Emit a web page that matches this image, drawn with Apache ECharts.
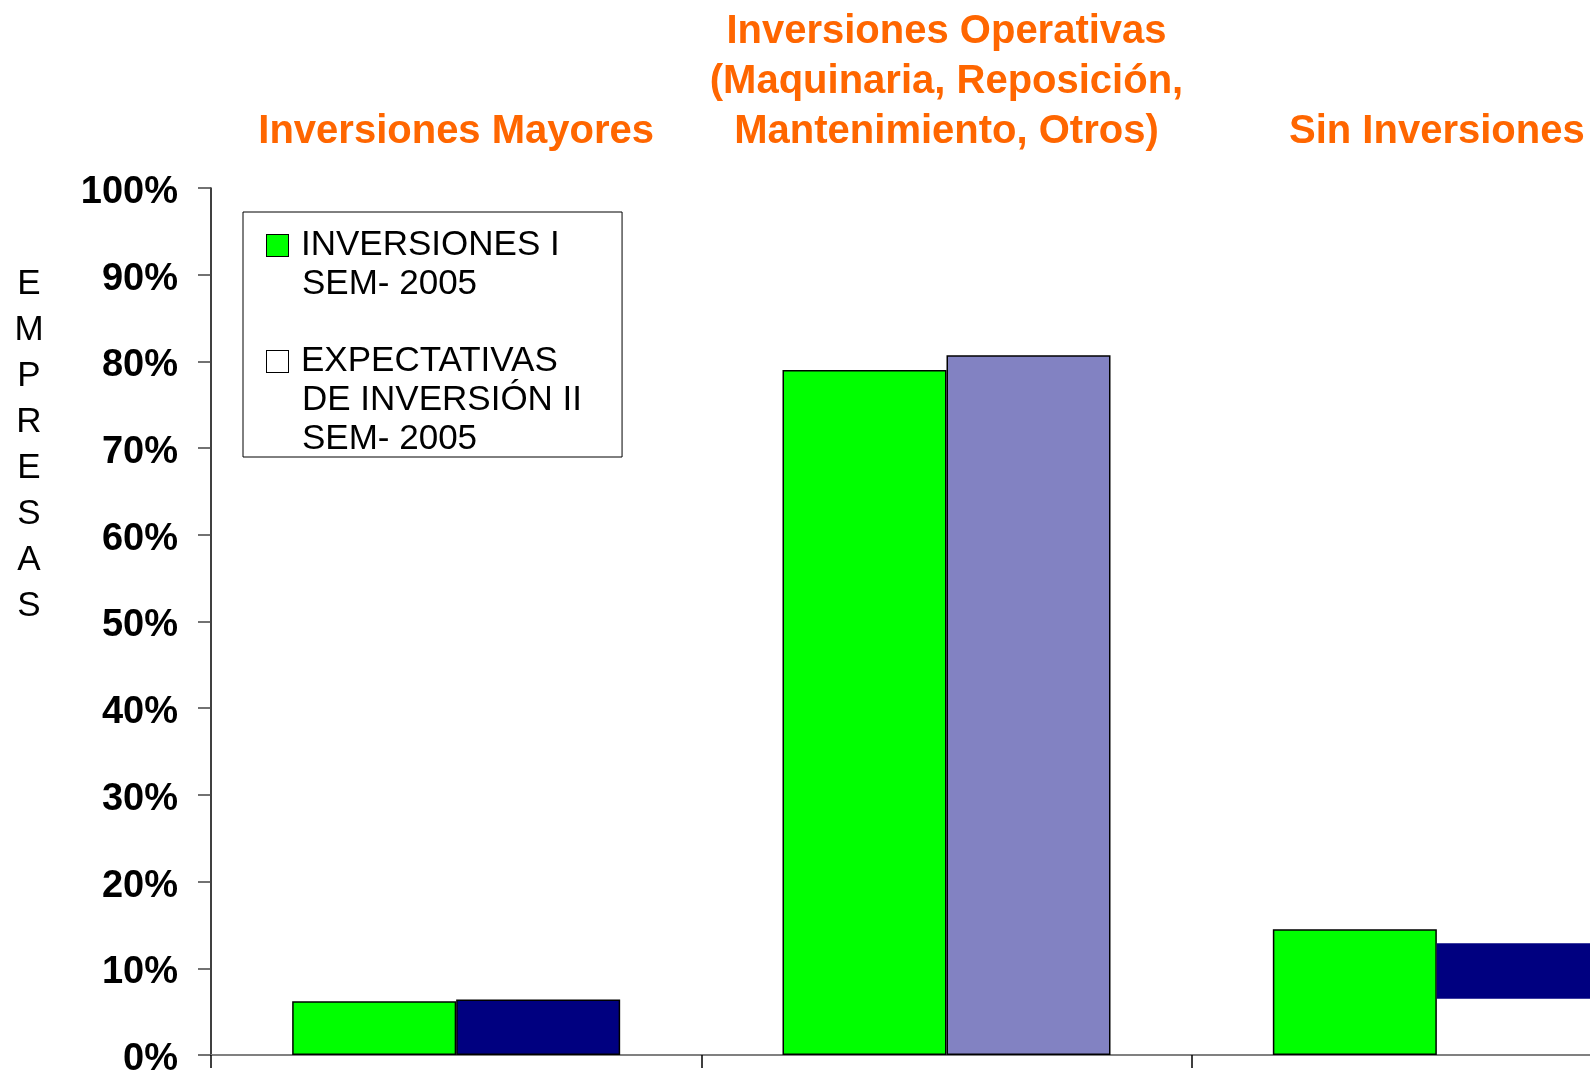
<!DOCTYPE html>
<html>
<head>
<meta charset="utf-8">
<script src="https://cdn.jsdelivr.net/npm/echarts@6/dist/echarts.min.js"></script>
<style>
  html, body { margin: 0; padding: 0; background: #fff; overflow: hidden; width: 1590px; height: 1076px; }
  /* el grafico original sale cortado por la derecha */
  #chart { width: 1683px; height: 1076px; }
</style>
</head>
<body>
<div id="chart"></div>
<script>
// categorias del eje x (titulos en naranja arriba)
var categorias = [
    'Inversiones Mayores',
    'Inversiones Operativas\n(Maquinaria, Reposición,\nMantenimiento, Otros)',
    'Sin Inversiones'
];
var yTicks = [0, 10, 20, 30, 40, 50, 60, 70, 80, 90, 100];

// % de empresas
var inversiones = [6.2, 79.0, 14.5];        // INVERSIONES I SEM-2005
var expectTop = [6.4, 80.7, 12.9];          // EXPECTATIVAS II SEM-2005 (borde superior)
var expectBase = [0, 0, 6.5];               // la ultima barra aparece flotando en el original

var nombreInv = 'INVERSIONES I SEM-2005';
var nombreExp = 'EXPECTATIVAS DE INVERSIÓN II SEM-2005';

var expectColors = ['#000080', '#8282c2', '#000080'];
var expectBorders = [1.5, 1.5, 0];

var fuente = '"Liberation Sans", Arial, sans-serif';

var chart = echarts.init(document.getElementById('chart'));

chart.setOption({
    backgroundColor: '#fff',
    animation: false,
    title: {
        text: 'E\nM\nP\nR\nE\nS\nA\nS',
        left: 29,
        top: 261,
        padding: 0,
        textAlign: 'center',
        textStyle: {
            fontFamily: fuente,
            fontSize: 35,
            fontWeight: 'normal',
            lineHeight: 46,
            color: '#000'
        }
    },
    legend: {
        data: [nombreInv, nombreExp],
        orient: 'vertical',
        left: 243,
        top: 212,
        padding: [16, 40, 0, 19],
        itemGap: 42,
        itemWidth: 0,
        itemHeight: 0,
        icon: 'none',
        selectedMode: false,
        backgroundColor: '#fff',
        borderColor: '#000',
        borderWidth: 1,
        formatter: function (name) {
            if (name === nombreInv) {
                return '{g|}{s|}{t|INVERSIONES I}\n{p|}{t|SEM- 2005}';
            }
            return '{w|}{s|}{t|EXPECTATIVAS}\n{p|}{t|DE INVERSIÓN II}\n{p|}{t|SEM- 2005}';
        },
        textStyle: {
            rich: {
                t: { fontFamily: fuente, fontSize: 35, lineHeight: 39, color: '#000' },
                g: { width: 21, height: 21, backgroundColor: '#00ff00', borderColor: '#000', borderWidth: 1 },
                w: { width: 21, height: 21, backgroundColor: '#fff', borderColor: '#000', borderWidth: 1 },
                s: { width: 13 },
                p: { width: 35 }
            }
        }
    },
    grid: {
        left: 211,
        right: 1,
        top: 188,
        bottom: 21,
        outerBoundsMode: 'none'
    },
    xAxis: [{
        type: 'category',
        data: categorias,
        position: 'bottom',
        axisLine: { lineStyle: { color: '#808080', width: 2 } },
        axisTick: { show: true, length: 13, lineStyle: { color: '#000', width: 1.5 } },
        axisLabel: { show: false },
        splitLine: { show: false }
    }, {
        type: 'category',
        data: categorias,
        position: 'top',
        axisLine: { show: false },
        axisTick: { show: false },
        axisLabel: {
            interval: 0,
            margin: 31,
            fontFamily: fuente,
            fontSize: 40,
            fontWeight: 'bold',
            lineHeight: 50,
            color: '#ff6600'
        }
    }],
    yAxis: {
        type: 'value',
        min: yTicks[0],
        max: yTicks[yTicks.length - 1],
        interval: 10,
        axisLine: { show: true, lineStyle: { color: '#000', width: 1.5 } },
        axisTick: { show: true, length: 13, lineStyle: { color: '#444', width: 1.5 } },
        axisLabel: {
            margin: 33,
            verticalAlign: 'top',
            lineHeight: 9,
            formatter: '{value}%',
            fontFamily: fuente,
            fontSize: 38,
            fontWeight: 'bold',
            color: '#000'
        },
        splitLine: { show: false }
    },
    series: [{
        name: nombreInv,
        type: 'bar',
        barWidth: 164,
        barGap: '0%',
        itemStyle: { color: '#00ff00', borderColor: '#000', borderWidth: 1.5 },
        data: inversiones
    }, {
        name: 'base',
        type: 'bar',
        stack: 'exp',
        barWidth: 164,
        silent: true,
        itemStyle: { color: 'rgba(0,0,0,0)' },
        data: expectBase
    }, {
        name: nombreExp,
        type: 'bar',
        stack: 'exp',
        barWidth: 164,
        itemStyle: { color: '#fff', borderColor: '#000' },
        data: expectTop.map(function (v, i) {
            return {
                value: v - expectBase[i],
                itemStyle: {
                    color: expectColors[i],
                    borderColor: '#000',
                    borderWidth: expectBorders[i]
                }
            };
        })
    }]
});
</script>
</body>
</html>
